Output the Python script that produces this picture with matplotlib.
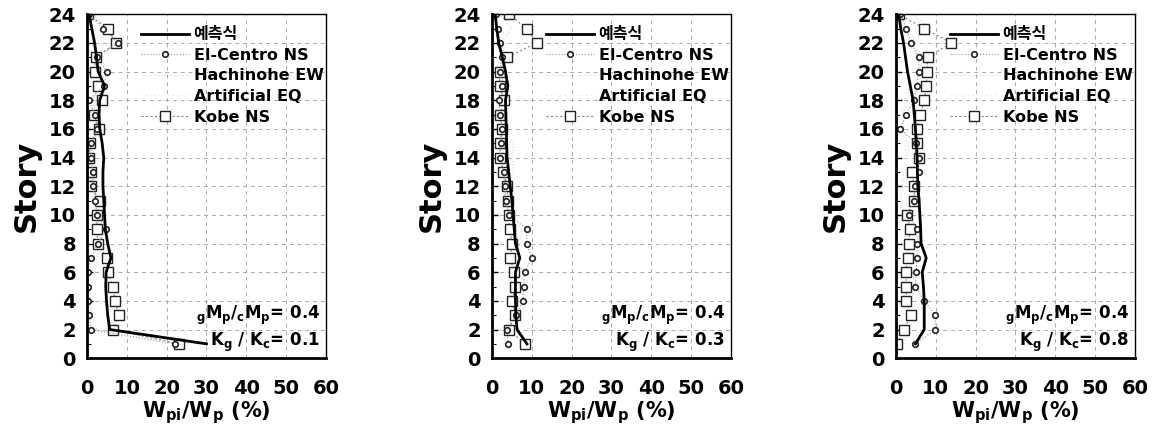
import matplotlib
matplotlib.use("Agg")
import matplotlib.pyplot as plt
from matplotlib.ticker import MultipleLocator
import numpy as np

matplotlib.rcParams['font.family'] = ['DejaVu Sans', 'Noto Sans CJK KR']
matplotlib.rcParams['font.weight'] = 'bold'
matplotlib.rcParams['mathtext.fontset'] = 'custom'
matplotlib.rcParams['mathtext.rm'] = 'DejaVu Sans:bold'
matplotlib.rcParams['mathtext.it'] = 'DejaVu Sans:bold'
matplotlib.rcParams['mathtext.default'] = 'rm'

stories = np.arange(1, 25)
ratios = ["0.1", "0.3", "0.8"]

# prediction curve (예측식), story 1 -> 24
pred = [
    [30, 5.7, 5.2, 4.9, 4.7, 4.8, 6.0, 5.2, 4.6, 4.4, 4.2, 4.0, 4.0, 4.2, 3.8, 3.2, 3.0, 3.2, 4.4, 2.8, 2.4, 1.9, 1.2, 0.5],
    [8.8, 6.3, 6.0, 5.9, 5.9, 5.9, 7.0, 5.9, 5.6, 5.3, 5.0, 4.6, 4.2, 3.8, 3.7, 3.6, 3.5, 3.4, 4.0, 3.4, 2.6, 1.7, 1.2, 0.8],
    [4.9, 7.1, 7.1, 7.1, 6.9, 6.6, 7.6, 6.3, 6.2, 6.0, 5.8, 5.5, 5.4, 5.3, 5.1, 4.9, 4.6, 4.3, 3.6, 2.9, 2.4, 1.9, 1.2, 0.7],
]
el_centro = [
    [22, 1.0, 0.5, 0.3, 0.2, 0.2, 1.0, 2.7, 4.8, 2.5, 2.0, 1.5, 1.5, 1.0, 1.0, 2.6, 1.9, 0.5, 4.2, 5.0, 2.5, 7.8, 4.0, 0.5],
    [4.0, 3.8, 6.0, 7.8, 8.0, 8.2, 10.0, 8.7, 8.8, 4.2, 3.5, 3.2, 3.0, 2.0, 2.2, 2.5, 2.0, 1.8, 2.5, 2.0, 2.5, 2.0, 1.5, 1.0],
    [4.9, 9.9, 9.9, 7.1, 4.9, 5.1, 5.3, 5.3, 5.3, 3.2, 4.5, 4.9, 5.7, 5.7, 5.0, 1.1, 2.6, 4.5, 5.3, 5.7, 5.7, 3.8, 2.6, 1.1],
]
hachinohe = [
    [28, 2.5, 1.2, 0.8, 1.0, 2.0, 2.5, 3.0, 3.2, 2.6, 2.2, 2.0, 2.0, 1.6, 1.5, 3.0, 2.2, 1.2, 3.6, 4.5, 4.0, 6.5, 5.5, 1.5],
    [3.5, 3.0, 6.5, 6.0, 5.0, 4.5, 6.0, 7.0, 7.5, 4.0, 4.0, 3.8, 5.5, 5.0, 5.5, 3.0, 2.5, 2.5, 2.5, 3.0, 3.0, 2.5, 5.0, 2.0],
    [2.0, 3.0, 4.0, 8.5, 5.0, 4.0, 3.5, 3.0, 3.5, 2.0, 1.5, 1.5, 2.0, 3.0, 3.0, 2.0, 1.5, 3.0, 3.5, 8.0, 7.5, 3.0, 9.0, 4.0],
]
artificial = [
    [20, 1.5, 0.8, 0.5, 1.2, 1.5, 1.8, 2.0, 2.5, 2.0, 1.8, 1.5, 1.5, 1.0, 1.0, 2.0, 1.5, 1.0, 3.0, 3.5, 3.0, 5.5, 4.5, 1.0],
    [3.0, 2.5, 5.0, 5.5, 4.0, 4.0, 5.0, 6.0, 6.5, 3.5, 3.5, 3.0, 4.5, 4.5, 4.5, 2.5, 2.0, 2.0, 2.0, 2.5, 2.5, 2.0, 4.5, 1.5],
    [1.5, 2.5, 3.5, 7.5, 4.5, 3.5, 3.0, 2.5, 3.0, 1.5, 1.0, 1.0, 1.5, 2.5, 2.5, 1.5, 1.0, 2.5, 3.0, 7.0, 6.5, 2.5, 8.0, 3.0],
]
kobe = [
    [23, 6.5, 8.0, 7.0, 6.5, 5.2, 5.0, 2.7, 2.5, 2.5, 3.2, 1.0, 1.0, 0.5, 0.7, 3.0, 1.7, 3.8, 2.7, 1.9, 2.2, 7.3, 5.2, 0.3],
    [8.2, 4.2, 5.9, 5.0, 5.9, 5.5, 4.6, 5.0, 4.5, 4.2, 4.0, 3.8, 2.9, 2.1, 2.1, 2.5, 2.1, 3.1, 1.9, 1.9, 3.8, 11.3, 8.7, 4.2],
    [0.3, 1.9, 3.8, 2.6, 2.6, 2.4, 2.9, 3.2, 3.6, 2.8, 4.6, 4.6, 4.0, 5.7, 5.3, 5.3, 6.1, 7.1, 7.6, 7.8, 8.0, 13.9, 7.1, 0.7],
]

fig = plt.figure(figsize=(11.54, 4.30), dpi=100)
lefts = [0.0754, 0.4263, 0.7764]

for i in range(3):
    ax = fig.add_axes([lefts[i], 0.167, 0.207, 0.80])
    ax.plot(hachinohe[i], stories, color='#d8d8d8', lw=0.8, ls=':', label='Hachinohe EW')
    ax.plot(artificial[i], stories, color='#e4e4e4', lw=0.8, ls=(0, (1, 3)), label='Artificial EQ')
    ax.plot(kobe[i], stories, color='#888888', lw=0.8, ls=(0, (2, 2)), marker='s', ms=6.5,
            mfc='white', mec='#222222', mew=1.0, label='Kobe NS')
    ax.plot(el_centro[i], stories, color='#999999', lw=0.8, ls=':', marker='o', ms=4,
            mfc='white', mec='#222222', mew=1.2, label='El-Centro NS')
    ax.plot(pred[i], stories, color='black', lw=2.0, label='예측식')

    ax.set_xlim(0, 60)
    ax.set_ylim(0, 24)
    ax.xaxis.set_major_locator(MultipleLocator(10))
    ax.yaxis.set_major_locator(MultipleLocator(2))
    ax.yaxis.set_minor_locator(MultipleLocator(1))
    ax.tick_params(axis='y', which='major', direction='in', length=4, width=1,
                   labelsize=14, pad=8)
    ax.tick_params(axis='y', which='minor', direction='in', length=3, width=0.8)
    ax.tick_params(axis='x', length=0, labelsize=14, pad=15)
    for lab in ax.get_xticklabels() + ax.get_yticklabels():
        lab.set_fontweight('bold')
    ax.grid(True, color='#a8a8a8', lw=0.7, ls=(0, (4, 4)))
    for side in ['top', 'right']:
        ax.spines[side].set_linewidth(1.0)
    for side in ['left', 'bottom']:
        ax.spines[side].set_linewidth(2.0)

    ax.set_ylabel('Story', fontsize=22, fontweight='bold', labelpad=6)
    ax.set_xlabel('W$_{pi}$/W$_p$ (%)', fontsize=15, fontweight='bold', labelpad=1)

    h, l = ax.get_legend_handles_labels()
    order = [4, 3, 0, 1, 2]
    leg = ax.legend([h[k] for k in order], [l[k] for k in order], loc='upper right',
                    bbox_to_anchor=(1.03, 0.99), frameon=False, fontsize=11.5,
                    handlelength=3.0, handletextpad=0.3, labelspacing=0.35,
                    borderaxespad=0.2)
    for t in leg.get_texts():
        t.set_fontweight('bold')

    ax.text(0.975, 0.125, '$_g$M$_p$/$_c$M$_p$= 0.4', transform=ax.transAxes,
            ha='right', va='center', fontsize=12, fontweight='bold')
    ax.text(0.975, 0.045, 'K$_g$ / K$_c$= ' + ratios[i], transform=ax.transAxes,
            ha='right', va='center', fontsize=12, fontweight='bold')

fig.savefig('out.png', dpi=100)
